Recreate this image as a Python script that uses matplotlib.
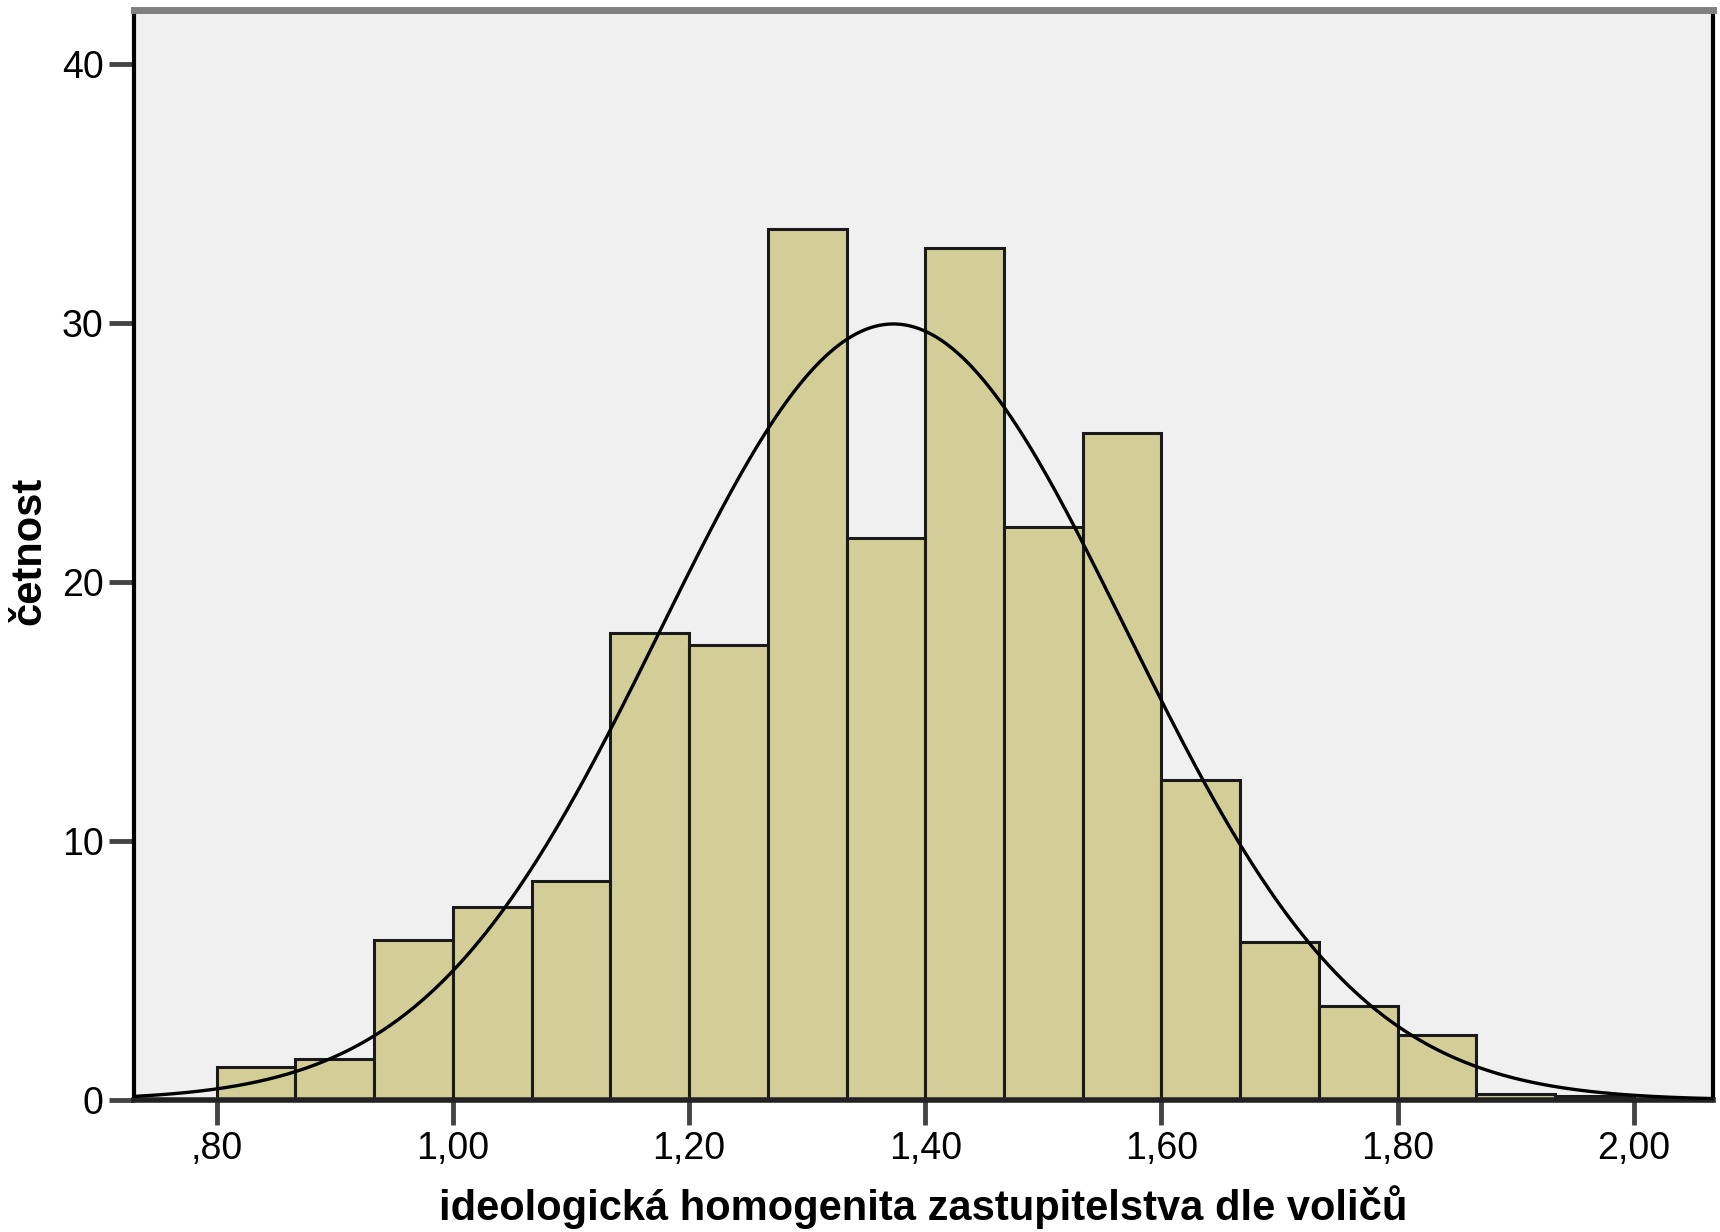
import numpy as np
import matplotlib
matplotlib.use("Agg")
import matplotlib.pyplot as plt

# histogram bins (width 1/15) and frequencies
bin_start = 0.80
bin_width = 1 / 15
counts = [1.27, 1.60, 6.18, 7.45, 8.47, 18.03, 17.57, 33.65, 21.71,
          32.89, 22.14, 25.78, 12.36, 6.10, 3.64, 2.50, 0.25, 0.17]

# fitted normal curve parameters
mean = 1.373
std = 0.197
n_total = 222

x_ticks = [0.80, 1.00, 1.20, 1.40, 1.60, 1.80, 2.00]
x_ticklabels = [",80", "1,00", "1,20", "1,40", "1,60", "1,80", "2,00"]
y_ticks = [0, 10, 20, 30, 40]

plt.rcParams['font.family'] = ['Liberation Sans', 'DejaVu Sans']
tick_font = ['Liberation Sans Narrow', 'Liberation Sans', 'DejaVu Sans']

fig = plt.figure(figsize=(17.2, 12.32), dpi=100)
ax = fig.add_axes([0.0779, 0.107, 0.918, 0.885])
ax.set_facecolor('#f0f0f0')

edges = bin_start + bin_width * np.arange(len(counts))
ax.bar(edges, counts, width=bin_width, align='edge', color='#d3ce98',
       edgecolor='#1a1a1a', linewidth=2.2, zorder=2)

xs = np.linspace(0.72, 2.08, 500)
ys = n_total * bin_width * np.exp(-0.5 * ((xs - mean) / std) ** 2) / (std * np.sqrt(2 * np.pi))
ax.plot(xs, ys, color='black', linewidth=2.4, zorder=3)

ax.set_xlim(0.730, 2.067)
ax.set_ylim(0, 42.1)

ax.set_xticks(x_ticks)
ax.set_xticklabels(x_ticklabels, family=tick_font)
ax.set_yticks(y_ticks)
ax.set_yticklabels([str(v) for v in y_ticks], family=tick_font)
ax.tick_params(axis='both', direction='out', length=18, width=3.5,
               color='#444444', labelsize=27, pad=4)

for side in ['left', 'right', 'bottom']:
    ax.spines[side].set_color('black')
    ax.spines[side].set_linewidth(3)
ax.spines['bottom'].set_color('#222222')
ax.spines['bottom'].set_linewidth(4)
ax.spines['top'].set_color('#808080')
ax.spines['top'].set_linewidth(5)

fig.text(0.537, 0.0097, "ideologická homogenita zastupitelstva dle voličů",
         fontsize=30, fontweight='bold', ha='center', va='baseline')
fig.text(0.017, 0.553, "četnost", rotation=90, fontsize=30,
         fontweight='bold', ha='center', va='center')

fig.savefig("out.png", dpi=100, facecolor='white')
